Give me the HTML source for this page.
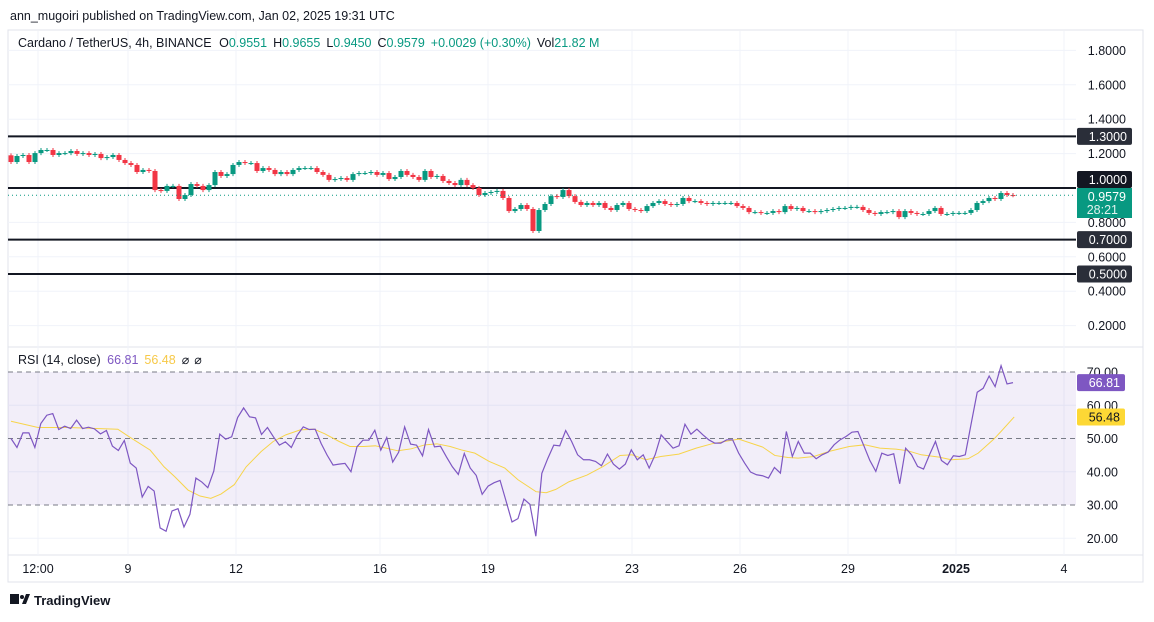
<!DOCTYPE html>
<html><head><meta charset="utf-8"><style>
body{margin:0;background:#fff;width:1154px;height:617px;overflow:hidden;font-family:"Liberation Sans",sans-serif;}
svg text{font-family:"Liberation Sans",sans-serif;}
</style></head><body>
<svg id="chart" width="1154" height="617" xmlns="http://www.w3.org/2000/svg">
<text x="10" y="20" font-size="12.5" fill="#131722">ann_mugoiri published on TradingView.com, Jan 02, 2025 19:31 UTC</text>
<rect x="8" y="30" width="1135" height="552" fill="none" stroke="#e0e3eb"/>
<line x1="8" y1="347" x2="1143" y2="347" stroke="#e0e3eb"/>
<line x1="8" y1="555" x2="1143" y2="555" stroke="#e0e3eb"/>
<g id="grid"></g>
<g id="rsiBand"></g>
<g id="levels"></g>
<g id="candles"></g>
<g id="rsi"></g>
<g id="axes"></g>
<text x="18" y="47" font-size="12.5" fill="#131722">Cardano / TetherUS, 4h, BINANCE <tspan dx="4">O</tspan><tspan fill="#089981">0.9551</tspan><tspan dx="6">H</tspan><tspan fill="#089981">0.9655</tspan><tspan dx="6">L</tspan><tspan fill="#089981">0.9450</tspan><tspan dx="6">C</tspan><tspan fill="#089981">0.9579</tspan><tspan dx="6" fill="#089981">+0.0029 (+0.30%)</tspan><tspan dx="6">Vol</tspan><tspan fill="#089981">21.82 M</tspan></text>
<text x="18" y="364" font-size="12.5" fill="#131722">RSI (14, close) <tspan dx="3" fill="#7e57c2">66.81</tspan><tspan dx="6" fill="#f7c948">56.48</tspan><tspan dx="6">⌀</tspan><tspan dx="5">⌀</tspan></text>
<g>
<rect x="10" y="594" width="9" height="10" fill="#131722"/><circle cx="22" cy="597" r="2" fill="#131722"/><polygon points="22,604 26,594 30,594 26,604" fill="#131722"/>
<text x="34" y="605" font-size="13" font-weight="bold" fill="#131722">TradingView</text></g>
</svg>
<script>
const closes=[1.151,1.186,1.192,1.151,1.203,1.221,1.221,1.192,1.203,1.203,1.215,1.198,1.203,1.192,1.198,1.174,1.180,1.192,1.163,1.145,1.134,1.093,1.105,1.099,0.988,0.983,1.012,1.012,0.936,0.959,1.023,1.012,0.988,1.017,1.093,1.070,1.081,1.134,1.151,1.145,1.145,1.099,1.116,1.105,1.081,1.093,1.081,1.105,1.116,1.116,1.116,1.093,1.076,1.047,1.052,1.058,1.047,1.081,1.087,1.087,1.093,1.076,1.087,1.052,1.064,1.099,1.076,1.064,1.047,1.099,1.064,1.070,1.041,1.029,1.017,1.047,1.017,1.000,0.959,0.971,0.977,0.983,0.942,0.866,0.878,0.901,0.878,0.750,0.872,0.907,0.953,0.948,0.988,0.953,0.919,0.901,0.913,0.901,0.913,0.884,0.872,0.901,0.913,0.878,0.872,0.866,0.895,0.913,0.924,0.907,0.901,0.907,0.942,0.924,0.924,0.913,0.907,0.913,0.913,0.913,0.913,0.895,0.884,0.860,0.860,0.855,0.855,0.866,0.860,0.895,0.878,0.884,0.866,0.866,0.860,0.866,0.872,0.878,0.884,0.884,0.890,0.890,0.872,0.855,0.849,0.860,0.860,0.866,0.831,0.866,0.855,0.849,0.849,0.866,0.884,0.849,0.849,0.855,0.855,0.855,0.872,0.913,0.924,0.942,0.936,0.971,0.959,0.958];
const firstOpen=1.19;
const priceTicks=[1.8,1.6,1.4,1.2,0.8,0.6,0.4,0.2];
const levels=[1.3,1.0,0.7,0.5];
const lastPrice=0.9579;
const dateLabels=["12:00","9","12","16","19","23","26","29","2025","4"];
const dateBars=[4.5,19.5,37.5,61.5,79.5,103.5,121.5,139.5,157.5,175.5];
const rsiVals=[50,47.3,51.7,51.7,47.3,54.5,57,57.5,52.7,53.7,53,55.5,53,53.4,52.9,51.4,52.4,47.7,46.4,49.4,42.6,41.1,32.4,35.6,34.2,23.1,22.1,28.2,28.9,23.4,27.2,38.1,36.9,35.2,40.2,51.3,49.8,50.5,56.3,59.2,56.5,56.2,51.2,53.3,50.5,48,49,47.3,51,53.5,52.7,52.8,48.5,45,42,42.3,42.5,40,47.5,49.5,49.5,52.5,46.5,50.3,42.9,45.9,53.5,48.3,48,44.8,52.7,47.5,47.7,44.5,41.5,39.2,45.5,41.1,38.9,33.2,35.7,36.7,37.4,31.2,24.9,25.9,31.8,30.2,20.6,39.5,44,48,47.8,52.4,49.1,45.1,43.6,43.6,43.1,41.8,45.3,42.3,40.8,42.3,46.6,43.6,45.1,41.1,45.1,51.1,49.1,47.1,47.8,54.3,51.3,52.8,51.1,49.6,48.6,48.6,49.6,49.6,45.6,42.6,39.9,39.1,38.8,38.1,41.3,39.6,52.1,44.6,49.1,45.6,45.6,43.9,45.1,45.9,48.1,49.6,50.6,51.9,52.1,47.8,43.4,40.1,45.6,44.9,45.4,36.4,47.1,45.1,41.6,40.8,45.1,49.1,43.4,42.1,44.8,44.6,45.1,54.6,63.9,65.1,68.8,65.6,71.9,66.4,66.81];
const maBars=[0,4.5,9.5,17.8,19.7,23.2,25.5,27.3,29.5,31.5,33.3,35,37.2,39.2,41.7,43.7,45.8,48.2,50.5,52.3,54.7,56.5,58.8,60.7,62.5,64.5,66.7,69,71,73.2,75,77.3,79.7,82.3,84.5,87.5,89.2,90.8,93,96,98.7,101.5,103.5,105.8,108.3,111.3,114.2,116.8,119.5,121.3,125.3,127.3,129.5,131.2,133.8,136.3,139.7,142.3,144.8,147.5,149.5,151.7,154.7,156.7,159.5,161.2,163.8,165,167.2];
const maVals=[55.2,53.3,53.3,52.8,50.5,46.5,41.5,38.5,34.5,32.7,32,33.3,36.1,41.5,46.1,49.1,51.1,52.6,52.8,51.4,49.1,47.6,47.6,47.8,47.1,46.3,46.9,48.1,48.4,47.6,46.6,45.6,43.1,41.1,37.6,34,33.7,34.7,37,39,41.6,44.9,45.1,43.6,44.6,45.3,47.1,48.4,49.3,49.8,47.4,44.9,44.3,44.1,44.6,46.1,47.6,48.1,47.1,46.8,46.3,45.1,44.4,43.6,43.9,45.6,49.8,52.1,56.48];
const rsiTicks=[70,60,50,40,30,20];

const NS="http://www.w3.org/2000/svg";
const X0=11,BW=6,PLOT_R=1076;
const xb=i=>X0+i*BW;
const yp=p=>188-(p-1)*172;
const yr=v=>372+(70-v)*3.325;
function mk(parent,tag,attrs){const e=document.createElementNS(NS,tag);for(const k in attrs)e.setAttribute(k,attrs[k]);document.getElementById(parent).appendChild(e);return e;}

dateBars.forEach((b,i)=>{const x=xb(b);const l=mk('grid','line',{x1:x,y1:31,x2:x,y2:555,stroke:'#f0f3fa'});


const t=mk('axes','text',{x:x,y:573,'font-size':12.5,'text-anchor':'middle',fill:'#131722','font-weight':dateLabels[i]==='2025'?'bold':'normal'});t.textContent=dateLabels[i];

});
priceTicks.concat(levels).forEach(p=>{const l=mk('grid','line',{x1:8,y1:yp(p),x2:PLOT_R,y2:yp(p),stroke:'#f0f3fa'});

});
priceTicks.forEach(p=>{const t=mk('axes','text',{x:1126,y:yp(p)+4.5,'font-size':12.5,'text-anchor':'end',fill:'#131722'});t.textContent=p.toFixed(4);

});
[60,40,20].forEach(v=>{const l=mk('grid','line',{x1:8,y1:yr(v),x2:PLOT_R,y2:yr(v),stroke:'#f0f3fa'});

});
rsiTicks.forEach(v=>{const t=mk('axes','text',{x:1118,y:yr(v)+4.5,'font-size':12.5,'text-anchor':'end',fill:'#131722'});t.textContent=v.toFixed(2);

});

const band=mk('rsiBand','rect',{x:8,y:yr(70),width:PLOT_R-8,height:yr(30)-yr(70),fill:'rgba(126,87,194,0.1)'});


[70,50,30].forEach(v=>{const l=mk('rsiBand','line',{x1:8,y1:yr(v),x2:PLOT_R,y2:yr(v),stroke:'#787b86','stroke-dasharray':'5,4'});

});

levels.forEach(p=>{const l=mk('levels','line',{x1:8,y1:yp(p),x2:PLOT_R,y2:yp(p),stroke:'#131722','stroke-width':2});


const by=p===1?yp(p)-17:yp(p)-8.5;
const r=mk('axes','rect',{x:1077,y:by,width:55,height:17,rx:2,fill:p===1?'#131722':'#2a2e39'});


const t=mk('axes','text',{x:1127,y:by+13,'font-size':12.5,'text-anchor':'end',fill:'#fff'});t.textContent=p.toFixed(4);

});

let prev=firstOpen;
closes.forEach((c,i)=>{const o=prev;prev=c;const up=c>=o;const col=up?'#089981':'#f23645';
const x=xb(i);const top=yp(Math.max(o,c)),bot=yp(Math.min(o,c));
const w=mk('candles','line',{x1:x,y1:top-2,x2:x,y2:bot+2,stroke:col});


const b=mk('candles','rect',{x:x-2.5,y:top,width:5,height:Math.max(1,bot-top),fill:col});

});
const pl=mk('candles','line',{x1:8,y1:yp(lastPrice),x2:PLOT_R,y2:yp(lastPrice),stroke:'#089981','stroke-dasharray':'1,3'});


const pb=mk('axes','rect',{x:1077,y:188,width:55,height:30,fill:'#089981'});


const pt=mk('axes','text',{x:1126,y:201,'font-size':12.5,'text-anchor':'end',fill:'#fff'});pt.textContent=lastPrice.toFixed(4);


const ct=mk('axes','text',{x:1118,y:214,'font-size':12.5,'text-anchor':'end',fill:'#e0f2ee'});ct.textContent='28:21';



const lastBar=closes.length-1;
const maPath=mk('rsi','polyline',{points:maBars.map((b,i)=>xb(b)+','+yr(maVals[i])).join(' '),fill:'none',stroke:'#f7d44a','stroke-width':1});


const rp=mk('rsi','polyline',{points:rsiVals.map((v,i)=>xb(i*lastBar/(rsiVals.length-1))+','+yr(v)).join(' '),fill:'none',stroke:'#7e57c2','stroke-width':1.2});


const lastR=rsiVals[rsiVals.length-1],lastM=maVals[maVals.length-1];
const rb=mk('axes','rect',{x:1077,y:yr(lastR)-8.5,width:48,height:17,rx:2,fill:'#7e57c2'});


const rt=mk('axes','text',{x:1120,y:yr(lastR)+4.5,'font-size':12.5,'text-anchor':'end',fill:'#fff'});rt.textContent=lastR.toFixed(2);


const mb=mk('axes','rect',{x:1077,y:yr(lastM)-8.5,width:48,height:17,rx:2,fill:'#fdd835'});


const mt=mk('axes','text',{x:1120,y:yr(lastM)+4.5,'font-size':12.5,'text-anchor':'end',fill:'#131722'});mt.textContent=lastM.toFixed(2);


</script>
</body></html>
